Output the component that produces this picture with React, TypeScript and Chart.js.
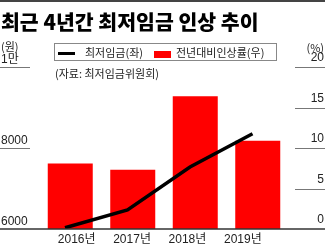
import React, { useEffect, useRef } from 'react';
import { Chart, registerables } from 'chart.js';

Chart.register(...registerables);

const categories = ['2016년', '2017년', '2018년', '2019년'];
const minWage = [6030, 6470, 7530, 8350];
const increaseRate = [8.1, 7.3, 16.4, 10.9];
const leftTicks = [6000, 8000, 10000];
const leftTickLabels = ['6000', '8000', '1만'];
const rightTicks = [0, 5, 10, 15, 20];
const lineLabel = '최저임금(좌)';
const barLabel = '전년대비인상률(우)';
const titleText = '최근 4년간 최저임금 인상 추이';
const sourceText = '(자료: 최저임금위원회)';
const leftUnit = '(원)';
const rightUnit = '(%)';

const FONT = '"Liberation Sans", "Noto Sans CJK KR", sans-serif';
const KFONT = '"Noto Sans CJK KR", "Liberation Sans", sans-serif';

const segPlugin = {
  id: 'segs',
  afterDatasetsDraw(chart: any) {
    const ctx = chart.ctx;
    const y = chart.scales.y;
    const y1 = chart.scales.y1;
    const W = chart.width;
    ctx.save();
    ctx.strokeStyle = '#777';
    ctx.lineWidth = 1;
    y.ticks.forEach((t: any) => {
      if (t.value === y.min) return;
      const py = Math.round(y.getPixelForValue(t.value)) + 0.5;
      ctx.beginPath();
      ctx.moveTo(0, py);
      ctx.lineTo(30, py);
      ctx.stroke();
    });
    y1.ticks.forEach((t: any) => {
      if (t.value === y1.min) return;
      const py = Math.round(y1.getPixelForValue(t.value)) + 0.5;
      ctx.beginPath();
      ctx.moveTo(W - 30, py);
      ctx.lineTo(W, py);
      ctx.stroke();
    });
    const by = y.getPixelForValue(y.min);
    ctx.strokeStyle = '#333';
    ctx.lineWidth = 1.5;
    ctx.beginPath();
    ctx.moveTo(0, by);
    ctx.lineTo(W, by);
    ctx.stroke();
    ctx.restore();
  },
};

export default function App() {
  const ref = useRef<HTMLCanvasElement>(null);
  useEffect(() => {
    const chart = new Chart(ref.current as HTMLCanvasElement, {
      type: 'bar',
      data: {
        labels: categories,
        datasets: [
          {
            type: 'line',
            label: lineLabel,
            data: minWage.map((v, i) => ({ x: i, y: v })),
            xAxisID: 'x2',
            yAxisID: 'y',
            borderColor: '#000',
            borderWidth: 3.5,
            pointRadius: 0,
            tension: 0,
            order: 0,
          } as any,
          {
            type: 'bar',
            label: barLabel,
            data: increaseRate,
            xAxisID: 'x',
            yAxisID: 'y1',
            backgroundColor: '#ff0000',
            barPercentage: 0.72,
            categoryPercentage: 1,
            grouped: false,
            order: 1,
          },
        ],
      },
      options: {
        animation: false,
        responsive: false,
        layout: { padding: { left: 1, right: 1, top: 67, bottom: 0 } },
        plugins: {
          legend: { display: false },
          title: { display: false },
          tooltip: { enabled: false },
        },
        scales: {
          x: { type: 'category', display: false, offset: true },
          x2: { type: 'linear', display: false, offset: false, min: -0.416, max: 3.584 },
          xl: {
            type: 'linear',
            position: 'bottom',
            offset: false,
            min: -0.68,
            max: 3.833,
            grid: { display: false, drawTicks: false, offset: false },
            border: { display: false },
            ticks: {
              stepSize: 1,
              includeBounds: false,
              autoSkip: false,
              maxRotation: 0,
              padding: 3,
              color: '#222',
              font: { size: 12, family: FONT },
              callback: (v: any) => categories[v] ?? '',
            },
            afterFit: (s: any) => {
              s.height = 19;
            },
          },
          y: {
            type: 'linear',
            position: 'left',
            min: 6000,
            max: 10000,
            grid: { display: false, drawTicks: false },
            border: { display: false },
            afterBuildTicks: (s: any) => {
              s.ticks = leftTicks.map((v) => ({ value: v }));
            },
            ticks: {
              crossAlign: 'far',
              padding: 0,
              labelOffset: -7,
              color: '#222',
              font: { size: 12, family: FONT },
              callback: (v: any) => leftTickLabels[leftTicks.indexOf(v)] ?? '',
            },
            afterFit: (s: any) => {
              s.width = 38;
            },
          },
          y1: {
            type: 'linear',
            position: 'right',
            min: 0,
            max: 20,
            grid: { display: false, drawTicks: false },
            border: { display: false },
            afterBuildTicks: (s: any) => {
              s.ticks = rightTicks.map((v) => ({ value: v }));
            },
            ticks: {
              crossAlign: 'far',
              padding: 0,
              labelOffset: -9,
              color: '#222',
              font: { size: 12, family: FONT },
              callback: (v: any) => String(v),
            },
            afterFit: (s: any) => {
              s.width = 35;
            },
          },
        },
      } as any,
      plugins: [segPlugin],
    });
    return () => chart.destroy();
  }, []);

  const abs = (o: React.CSSProperties): React.CSSProperties => ({ position: 'absolute', whiteSpace: 'nowrap', ...o });

  return (
    <div style={{ position: 'fixed', left: 0, top: 0, width: 325, height: 248, background: '#fff', overflow: 'hidden' }}>
      <canvas ref={ref} width={325} height={248} style={{ position: 'absolute', left: 0, top: 0, width: 325, height: 248 }} />
      <div style={abs({ left: 0, top: 0, width: 325, height: 2, background: '#444' })} />
      <div style={abs({ left: 1, top: 8, fontFamily: KFONT, fontWeight: 900, fontSize: 20.5, lineHeight: '26px', color: '#000' })}>{titleText}</div>
      <div style={abs({ left: 1, top: 39, fontFamily: KFONT, fontSize: 11, lineHeight: '14px', color: '#222' })}>{leftUnit}</div>
      <div style={abs({ right: 1, top: 40, fontFamily: KFONT, fontSize: 11, lineHeight: '14px', color: '#222' })}>{rightUnit}</div>
      <div style={abs({ left: 54, top: 43, width: 221, height: 16, border: '1px solid #888' })} />
      <div style={abs({ left: 58, top: 52, width: 17, height: 3, background: '#000' })} />
      <div style={abs({ left: 85, top: 45, fontFamily: KFONT, fontSize: 11, lineHeight: '14px', color: '#222' })}>{lineLabel}</div>
      <div style={abs({ left: 154, top: 51, width: 17, height: 7, background: '#ff0000' })} />
      <div style={abs({ left: 176, top: 45, fontFamily: KFONT, fontSize: 11, lineHeight: '14px', color: '#222' })}>{barLabel}</div>
      <div style={abs({ left: 55, top: 66, fontFamily: KFONT, fontSize: 11, lineHeight: '14px', color: '#222' })}>{sourceText}</div>
    </div>
  );
}
